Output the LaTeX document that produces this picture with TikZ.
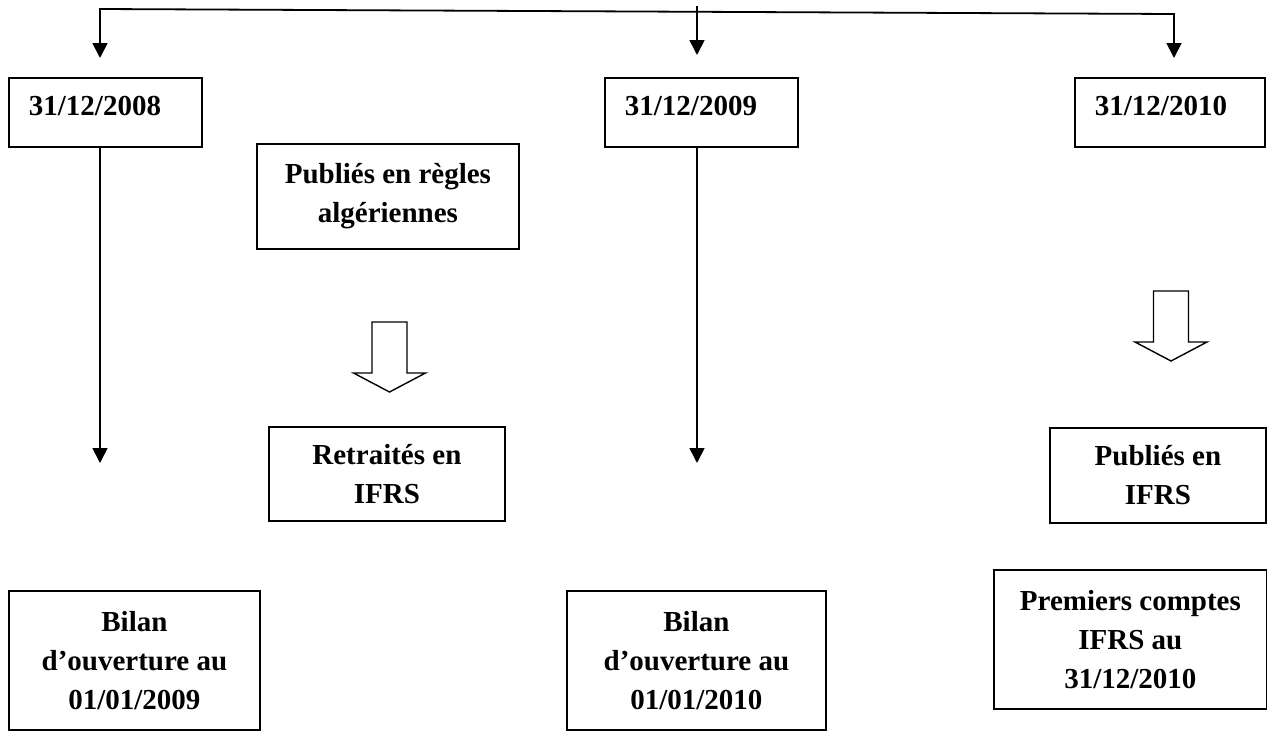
\documentclass[tikz,border=0pt]{standalone}
\usepackage{fontspec}
\setmainfont{Liberation Serif}
\usetikzlibrary{arrows.meta}
\tikzset{
  % Base box
  BX/.style={rectangle,draw,line width=1.8pt,inner sep=0pt,align=center,
             font=\bfseries\fontsize{29}{39}\selectfont},
  % Date box, text top left
  DT/.style={BX,align=left,text width=153pt,inner xsep=20pt,
             minimum height=69pt,text height=20pt,text depth=13pt},
  % Arrows
  arr/.style={-{Triangle[length=15pt,width=15pt]},line width=1.8pt},
  arrs/.style={{Triangle[length=15pt,width=15pt]}-{Triangle[length=15pt,width=15pt]},line width=1.8pt},
  % Hollow block arrow
  blk/.style={draw,line width=1.4pt,fill=white}
}
\begin{document}
\begin{tikzpicture}[x=1pt,y=-1pt]
  \useasboundingbox (0,0) rectangle (1267,731);

  % dates
  \node[DT,anchor=north west]                  (d2008) at (8,77)    {31/12/2008};
  \node[DT,anchor=north west]                  (d2009) at (604,77)  {31/12/2009};
  \node[DT,anchor=north west,text width=150pt] (d2010) at (1074,77) {31/12/2010};

  % boxes
  \node[BX,minimum width=262pt,minimum height=105pt,anchor=north west] (regles)    at (256,143) {Publiés en règles\\algériennes};
  \node[BX,minimum width=236pt,minimum height=94pt,anchor=north west]  (retraites) at (268,426) {Retraités en\\IFRS};
  \node[BX,minimum width=251pt,minimum height=139pt,anchor=north west] (b2009)     at (8,590)   {Bilan\\d’ouverture au\\01/01/2009};
  \node[BX,minimum width=259pt,minimum height=139pt,anchor=north west] (b2010)     at (566,590) {Bilan\\d’ouverture au\\01/01/2010};
  \node[BX,minimum width=216pt,minimum height=95pt,anchor=north west]  (ifrs)      at (1049,427){Publiés en\\IFRS};
  \node[BX,minimum width=273pt,minimum height=139pt,anchor=north west] (premiers)  at (993,569) {Premiers comptes\\IFRS au\\31/12/2010};

  % top connector
  \coordinate (tl) at (100,9);
  \coordinate (tr) at (1174,14);
  \coordinate (tm) at (697,6);
  \coordinate (s2008) at (100,58);
  \coordinate (s2009) at (697,55);
  \coordinate (s2010) at (1174,58);
  \draw[arrs](s2008) -- (tl) -- (tr) -- (s2010);
  \draw[arr](tm) -- (s2009);

  % long arrows
  \coordinate (e2008) at (100,463);
  \coordinate (e2009) at (697,463);
  \draw[arr](d2008.south -| e2008) -- (e2008);
  \draw[arr](d2009.south -| e2009) -- (e2009);

  % hollow arrows
  \foreach \cx/\cy in {389.5/322,1171/291}
    \draw[blk] (\cx-17.5,\cy) -- (\cx+17.5,\cy) -- (\cx+17.5,\cy+51) -- (\cx+36,\cy+51)
      -- (\cx,\cy+70) -- (\cx-36,\cy+51) -- (\cx-17.5,\cy+51) -- cycle;
\end{tikzpicture}
\end{document}
